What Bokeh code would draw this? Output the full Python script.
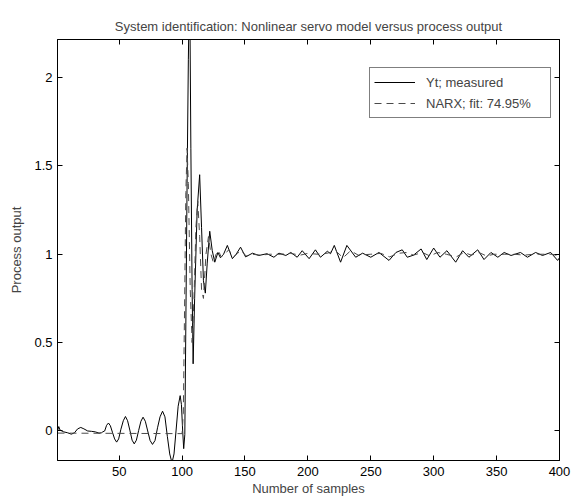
from bokeh.plotting import figure
from bokeh.models import Range1d, LinearAxis, FixedTicker, Legend, LegendItem
from bokeh.embed import file_html
from bokeh.resources import INLINE

TITLE = "System identification: Nonlinear servo model versus process output"
X_LABEL = "Number of samples"
Y_LABEL = "Process output"

x_ticks = [50, 100, 150, 200, 250, 300, 350, 400]
x_tick_labels = ["50", "100", "150", "200", "250", "300", "350", "400"]
y_ticks = [0, 0.5, 1, 1.5, 2]
y_tick_labels = ["0", "0.5", "1", "1.5", "2"]

measured_name = "Yt; measured"
model_name = "NARX; fit: 74.95%"

yt_x = [1, 2, 3, 6, 9, 12, 14.5, 17, 19.5, 22, 25, 28, 31, 34, 36,
        37, 38.5, 40, 41.5, 43, 44.8, 46.4, 48, 49.6, 51.4, 53.3, 55, 56.7, 58.5,
        60.3, 62, 63.7, 65.5, 67.3, 69, 70.8, 72.7, 74.6, 76.5, 78.5, 80.5, 82.5,
        84.5, 86.4, 88.3, 90.2, 92, 93.6, 95.2, 96.9, 98.5, 99.5, 100.5, 101.3,
        102.2, 103, 104, 105, 106, 107, 108, 108.8, 110, 112, 114, 115.5, 117,
        118.5, 120, 122, 124, 126, 128.5, 130.5, 133, 136, 140, 143, 146.5, 150.5,
        156, 161, 167.5, 173, 177, 182.5, 186.5, 191.5, 195.5, 201, 206, 210,
        215.5, 218, 221, 226, 231, 238, 243.5, 250, 256.5, 264.5, 270, 275, 279,
        284, 290, 294.5, 300, 305, 310.5, 317.5, 323, 328, 335, 340, 345.5, 351,
        356, 361.5, 369, 374.5, 381, 386.5, 393, 398.5, 400]
yt_y = [0.0, 0.025, 0.005, -0.005, -0.01, -0.018, -0.01, 0.012, 0.02, 0.012, 0.0,
        -0.002, -0.005, -0.012, -0.01,
        -0.005, 0.0, 0.032, 0.045, 0.03, -0.01, -0.045, -0.063, -0.045, 0.01, 0.058,
        0.082, 0.058, 0.005, -0.052, -0.073, -0.052, 0.003, 0.055, 0.078, 0.055,
        0.0, -0.054, -0.076, -0.054, 0.018, 0.08, 0.112, 0.08, -0.03, -0.13, -0.18,
        -0.13, 0.0, 0.14, 0.2, 0.15, 0.0, -0.1, -0.02, 0.6, 1.4, 2.1, 2.6, 1.6,
        0.8, 0.38, 0.75, 1.25, 1.45, 1.15, 0.85, 0.78, 0.95, 1.13, 1.02, 0.955,
        1.01, 0.98, 1.0, 1.05, 0.975, 1.0, 1.04, 0.985, 1.006, 0.993, 1.003, 0.983,
        1.006, 0.993, 1.01, 0.983, 1.02, 0.975, 1.025, 0.983, 1.017, 1.003, 1.05,
        0.955, 1.05, 0.983, 1.006, 0.983, 1.01, 0.965, 1.01, 1.025, 0.983, 0.995,
        1.03, 0.97, 1.035, 0.983, 1.02, 0.955, 1.02, 0.983, 1.025, 0.97, 1.01,
        0.983, 1.01, 0.993, 1.01, 0.983, 1.01, 0.993, 1.01, 0.965, 0.98]

narx_x = [1, 100, 101, 102, 103, 104, 105, 106.5, 108, 109.5, 111, 112.5, 114,
          115.5, 117, 119, 121, 123, 125, 127, 129, 131, 134, 137, 141, 144, 147,
          151, 156, 162, 170, 178, 186, 194, 200, 208, 215, 222, 228, 234, 240,
          250, 258, 265, 272, 278, 284, 291, 297, 303, 310, 318, 324, 330, 336,
          342, 348, 356, 364, 372, 380, 388, 394, 400]
narx_y = [-0.012, -0.015, 0.1, 0.7, 1.35, 1.6, 1.4, 0.8, 0.5, 0.75, 1.15, 1.3,
          1.1, 0.8, 0.75, 1.0, 1.1, 1.0, 0.95, 1.0, 1.02, 0.985, 1.0, 1.025,
          0.985, 1.005, 1.02, 0.99, 1.0, 0.995, 1.0, 1.0, 1.005, 0.995, 1.005,
          1.0, 1.005, 1.02, 0.98, 1.02, 0.995, 1.0, 1.005, 0.985, 1.005, 1.01,
          0.995, 1.01, 0.99, 1.01, 1.0, 0.985, 1.01, 0.995, 1.01, 0.99, 1.0, 1.0,
          1.0, 0.995, 1.0, 1.0, 1.0, 0.99]

FONT = "Liberation Sans"
FS = "13px"

p = figure(frame_width=502, frame_height=421,
           x_range=Range1d(1, 400), y_range=Range1d(-0.167, 2.215),
           output_backend="svg", toolbar_location=None,
           min_border_left=57, min_border_right=12, min_border_top=39,
           min_border_bottom=36, title=TITLE)
p.title.text_font = FONT
p.title.text_font_size = FS
p.title.text_font_style = "normal"
p.title.align = "center"
p.title.standoff = 12
p.grid.visible = False
p.outline_line_color = "black"
p.background_fill_color = "white"
p.border_fill_color = "white"

r1 = p.line(yt_x, yt_y, line_color="black", line_width=1)
r2 = p.line(narx_x, narx_y, line_color="#4a4a4a", line_width=1, line_dash="7 5")

def style(ax, ticks, labels, show):
    ax.ticker = FixedTicker(ticks=ticks)
    if show:
        ax.major_label_overrides = {t: l for t, l in zip(ticks, labels)}
    else:
        ax.major_label_overrides = {t: "" for t in ticks}
    ax.major_tick_in = 5
    ax.major_tick_out = 0
    ax.minor_tick_line_color = None
    ax.axis_line_color = "black"
    ax.major_tick_line_color = "black"
    ax.major_label_text_font = FONT
    ax.major_label_text_font_size = FS if show else "0px"
    ax.major_label_text_color = "black"
    ax.axis_label_text_font = FONT
    ax.axis_label_text_font_size = FS
    ax.axis_label_text_font_style = "normal"

style(p.xaxis[0], x_ticks, x_tick_labels, True)
style(p.yaxis[0], y_ticks, y_tick_labels, True)
p.xaxis[0].axis_label = X_LABEL
p.yaxis[0].axis_label = Y_LABEL
p.xaxis[0].major_label_standoff = 6
p.xaxis[0].axis_label_standoff = 2
p.yaxis[0].major_label_standoff = 5
p.yaxis[0].axis_label_standoff = 7

top = LinearAxis()
style(top, x_ticks, x_tick_labels, False)
top.major_label_standoff = 0
p.add_layout(top, "above")
right = LinearAxis()
style(right, y_ticks, y_tick_labels, False)
right.major_label_standoff = 0
p.add_layout(right, "right")

legend = Legend(items=[LegendItem(label=measured_name, renderers=[r1]),
                       LegendItem(label=model_name, renderers=[r2])],
                location=(312, 342))
legend.label_text_font = FONT
legend.label_text_font_size = FS
legend.glyph_width = 41
legend.label_standoff = 11
legend.label_width = 120
legend.label_height = 20
legend.spacing = 1
legend.padding = 4
legend.margin = 0
legend.border_line_color = "black"
legend.border_line_width = 1
legend.background_fill_alpha = 1
p.add_layout(legend, "center")

open("out.html", "w").write(file_html(p, INLINE))
